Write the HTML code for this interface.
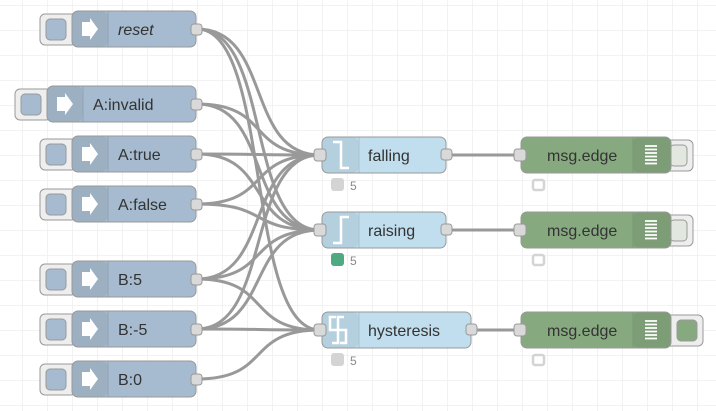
<!DOCTYPE html>
<html><head><meta charset="utf-8"><style>
html,body{margin:0;padding:0;background:#fff;}
svg{display:block;}
text{font-family:"Liberation Sans",sans-serif;font-size:16px;fill:#333;}
</style></head><body>
<svg width="716" height="411" xmlns="http://www.w3.org/2000/svg">
<defs>
<pattern id="g" x="22" y="5" width="25" height="25" patternUnits="userSpaceOnUse">
<path d="M0 0H25M0 0V25" stroke="#eeeeee" stroke-width="1.6" fill="none"/>
</pattern>
</defs>
<rect width="716" height="411" fill="url(#g)"/>
<g fill="none" stroke="#999" stroke-width="3">
<path d="M197 29 C272 29,245 155,320 155"/><path d="M197 29 C272 29,245 230,320 230"/><path d="M197 29 C272 29,245 330,320 330"/>
<path d="M197 104 C272 104,245 155,320 155"/><path d="M197 104 C272 104,245 230,320 230"/>
<path d="M197 154 C272 154,245 155,320 155"/><path d="M197 154 C272 154,245 230,320 230"/>
<path d="M197 204 C272 204,245 155,320 155"/><path d="M197 204 C272 204,245 230,320 230"/>
<path d="M197 279 C272 279,245 155,320 155"/><path d="M197 279 C272 279,245 230,320 230"/><path d="M197 279 C272 279,245 330,320 330"/>
<path d="M197 329 C272 329,245 155,320 155"/><path d="M197 329 C272 329,245 230,320 230"/><path d="M197 329 C272 329,245 330,320 330"/>
<path d="M197 379 C272 379,245 330,320 330"/>
<path d="M446 155H520M446 230H520M471 330H520"/>
</g>
<g stroke="#999" stroke-width="1">
<g transform="translate(0,11)"><rect x="40" y="3" width="36" height="31" rx="5" fill="#eee"/><rect x="46" y="8" width="20" height="21" rx="4" fill="#a6bbcf"/><rect x="72" y="0" width="124" height="36" rx="6" fill="#a6bbcf"/><path d="M108 0.5V35.5" stroke="#8fa3b6"/><rect x="72.5" y="0.5" width="35" height="35" rx="5" fill="#000" fill-opacity="0.06" stroke="none"/><path d="M82 11h8v-4l8 11l-8 11v-4h-8z" fill="#fff" stroke="none"/><text x="118" y="24" stroke="none" font-style="italic">reset</text><rect x="191" y="13" width="11" height="11" rx="3" fill="#d9d9d9"/></g>
<g transform="translate(-25,86)"><rect x="40" y="3" width="36" height="31" rx="5" fill="#eee"/><rect x="46" y="8" width="20" height="21" rx="4" fill="#a6bbcf"/><rect x="72" y="0" width="149" height="36" rx="6" fill="#a6bbcf"/><path d="M108 0.5V35.5" stroke="#8fa3b6"/><rect x="72.5" y="0.5" width="35" height="35" rx="5" fill="#000" fill-opacity="0.06" stroke="none"/><path d="M82 11h8v-4l8 11l-8 11v-4h-8z" fill="#fff" stroke="none"/><text x="118" y="24" stroke="none">A:invalid</text><rect x="216" y="13" width="11" height="11" rx="3" fill="#d9d9d9"/></g>
<g transform="translate(0,136)"><rect x="40" y="3" width="36" height="31" rx="5" fill="#eee"/><rect x="46" y="8" width="20" height="21" rx="4" fill="#a6bbcf"/><rect x="72" y="0" width="124" height="36" rx="6" fill="#a6bbcf"/><path d="M108 0.5V35.5" stroke="#8fa3b6"/><rect x="72.5" y="0.5" width="35" height="35" rx="5" fill="#000" fill-opacity="0.06" stroke="none"/><path d="M82 11h8v-4l8 11l-8 11v-4h-8z" fill="#fff" stroke="none"/><text x="118" y="24" stroke="none">A:true</text><rect x="191" y="13" width="11" height="11" rx="3" fill="#d9d9d9"/></g>
<g transform="translate(0,186)"><rect x="40" y="3" width="36" height="31" rx="5" fill="#eee"/><rect x="46" y="8" width="20" height="21" rx="4" fill="#a6bbcf"/><rect x="72" y="0" width="124" height="36" rx="6" fill="#a6bbcf"/><path d="M108 0.5V35.5" stroke="#8fa3b6"/><rect x="72.5" y="0.5" width="35" height="35" rx="5" fill="#000" fill-opacity="0.06" stroke="none"/><path d="M82 11h8v-4l8 11l-8 11v-4h-8z" fill="#fff" stroke="none"/><text x="118" y="24" stroke="none">A:false</text><rect x="191" y="13" width="11" height="11" rx="3" fill="#d9d9d9"/></g>
<g transform="translate(0,261)"><rect x="40" y="3" width="36" height="31" rx="5" fill="#eee"/><rect x="46" y="8" width="20" height="21" rx="4" fill="#a6bbcf"/><rect x="72" y="0" width="124" height="36" rx="6" fill="#a6bbcf"/><path d="M108 0.5V35.5" stroke="#8fa3b6"/><rect x="72.5" y="0.5" width="35" height="35" rx="5" fill="#000" fill-opacity="0.06" stroke="none"/><path d="M82 11h8v-4l8 11l-8 11v-4h-8z" fill="#fff" stroke="none"/><text x="118" y="24" stroke="none">B:5</text><rect x="191" y="13" width="11" height="11" rx="3" fill="#d9d9d9"/></g>
<g transform="translate(0,311)"><rect x="40" y="3" width="36" height="31" rx="5" fill="#eee"/><rect x="46" y="8" width="20" height="21" rx="4" fill="#a6bbcf"/><rect x="72" y="0" width="124" height="36" rx="6" fill="#a6bbcf"/><path d="M108 0.5V35.5" stroke="#8fa3b6"/><rect x="72.5" y="0.5" width="35" height="35" rx="5" fill="#000" fill-opacity="0.06" stroke="none"/><path d="M82 11h8v-4l8 11l-8 11v-4h-8z" fill="#fff" stroke="none"/><text x="118" y="24" stroke="none">B:-5</text><rect x="191" y="13" width="11" height="11" rx="3" fill="#d9d9d9"/></g>
<g transform="translate(0,361)"><rect x="40" y="3" width="36" height="31" rx="5" fill="#eee"/><rect x="46" y="8" width="20" height="21" rx="4" fill="#a6bbcf"/><rect x="72" y="0" width="124" height="36" rx="6" fill="#a6bbcf"/><path d="M108 0.5V35.5" stroke="#8fa3b6"/><rect x="72.5" y="0.5" width="35" height="35" rx="5" fill="#000" fill-opacity="0.06" stroke="none"/><path d="M82 11h8v-4l8 11l-8 11v-4h-8z" fill="#fff" stroke="none"/><text x="118" y="24" stroke="none">B:0</text><rect x="191" y="13" width="11" height="11" rx="3" fill="#d9d9d9"/></g>

<g transform="translate(0,137)"><rect x="322" y="0" width="124" height="36" rx="6" fill="#c0deed"/><rect x="322.5" y="0.5" width="36" height="35" rx="5" fill="#000" fill-opacity="0.06" stroke="none"/><path d="M359 0.5V35.5" stroke="#a5c3d2"/><path d="M333 5h8v26h8" fill="none" stroke="#fff" stroke-width="2.5"/><text x="368" y="24" stroke="none">falling</text><rect x="314" y="12" width="12" height="12" rx="3" fill="#d9d9d9"/><rect x="441" y="12" width="11" height="11" rx="3" fill="#d9d9d9"/><rect x="331" y="41" width="13" height="13" rx="3" fill="#d4d4d4" stroke="none"/><text x="350" y="53" stroke="none" style="font-size:12px;fill:#888">5</text></g>
<g transform="translate(0,212)"><rect x="322" y="0" width="124" height="36" rx="6" fill="#c0deed"/><rect x="322.5" y="0.5" width="36" height="35" rx="5" fill="#000" fill-opacity="0.06" stroke="none"/><path d="M359 0.5V35.5" stroke="#a5c3d2"/><path d="M349 5h-8v26h-8" fill="none" stroke="#fff" stroke-width="2.5"/><text x="368" y="24" stroke="none">raising</text><rect x="314" y="12" width="12" height="12" rx="3" fill="#d9d9d9"/><rect x="441" y="12" width="11" height="11" rx="3" fill="#d9d9d9"/><rect x="331" y="41" width="13" height="13" rx="3" fill="#4faa82" stroke="none"/><text x="350" y="53" stroke="none" style="font-size:12px;fill:#888">5</text></g>
<g transform="translate(0,312)"><rect x="322" y="0" width="149" height="36" rx="6" fill="#c0deed"/><rect x="322.5" y="0.5" width="36" height="35" rx="5" fill="#000" fill-opacity="0.06" stroke="none"/><path d="M359 0.5V35.5" stroke="#a5c3d2"/><path d="M344 5h-6v26h-6M336 5h-6v13h8M338 18h8v13h-6" fill="none" stroke="#fff" stroke-width="2.5"/><text x="368" y="24" stroke="none">hysteresis</text><rect x="314" y="12" width="12" height="12" rx="3" fill="#d9d9d9"/><rect x="466" y="12" width="11" height="11" rx="3" fill="#d9d9d9"/><rect x="331" y="41" width="13" height="13" rx="3" fill="#d4d4d4" stroke="none"/><text x="350" y="53" stroke="none" style="font-size:12px;fill:#888">5</text></g>

<g transform="translate(0,137)"><rect x="664" y="3" width="29" height="31" rx="5" fill="#eee"/><rect x="670" y="8" width="17" height="21" rx="4" fill="#e2e8e0"/><rect x="521" y="0" width="150" height="36" rx="6" fill="#87a980"/><rect x="633" y="0.5" width="37.5" height="35" rx="5" fill="#000" fill-opacity="0.07" stroke="none"/><path d="M633 0.5V35.5" stroke="#7a9a74"/><path d="M645 9h12M645 12.5h12M645 16h12M645 19.5h12M645 23h12M645 26.5h12" stroke="#fff" stroke-width="1.8"/><text x="547" y="24" stroke="none">msg.edge</text><rect x="514" y="12" width="12" height="12" rx="3" fill="#d9d9d9"/><rect x="533" y="43" width="11" height="10" rx="2" fill="#fff" stroke="#d4d4d4" stroke-width="2.5"/></g>
<g transform="translate(0,212)"><rect x="664" y="3" width="29" height="31" rx="5" fill="#eee"/><rect x="670" y="8" width="17" height="21" rx="4" fill="#e2e8e0"/><rect x="521" y="0" width="150" height="36" rx="6" fill="#87a980"/><rect x="633" y="0.5" width="37.5" height="35" rx="5" fill="#000" fill-opacity="0.07" stroke="none"/><path d="M633 0.5V35.5" stroke="#7a9a74"/><path d="M645 9h12M645 12.5h12M645 16h12M645 19.5h12M645 23h12M645 26.5h12" stroke="#fff" stroke-width="1.8"/><text x="547" y="24" stroke="none">msg.edge</text><rect x="514" y="12" width="12" height="12" rx="3" fill="#d9d9d9"/><rect x="533" y="43" width="11" height="10" rx="2" fill="#fff" stroke="#d4d4d4" stroke-width="2.5"/></g>
<g transform="translate(0,312)"><rect x="664" y="3" width="39" height="31" rx="5" fill="#eee"/><rect x="677" y="8" width="20" height="21" rx="4" fill="#87a980"/><rect x="521" y="0" width="150" height="36" rx="6" fill="#87a980"/><rect x="633" y="0.5" width="37.5" height="35" rx="5" fill="#000" fill-opacity="0.07" stroke="none"/><path d="M633 0.5V35.5" stroke="#7a9a74"/><path d="M645 9h12M645 12.5h12M645 16h12M645 19.5h12M645 23h12M645 26.5h12" stroke="#fff" stroke-width="1.8"/><text x="547" y="24" stroke="none">msg.edge</text><rect x="514" y="12" width="12" height="12" rx="3" fill="#d9d9d9"/><rect x="533" y="43" width="11" height="10" rx="2" fill="#fff" stroke="#d4d4d4" stroke-width="2.5"/></g>
</g>
</svg>
</body></html>
